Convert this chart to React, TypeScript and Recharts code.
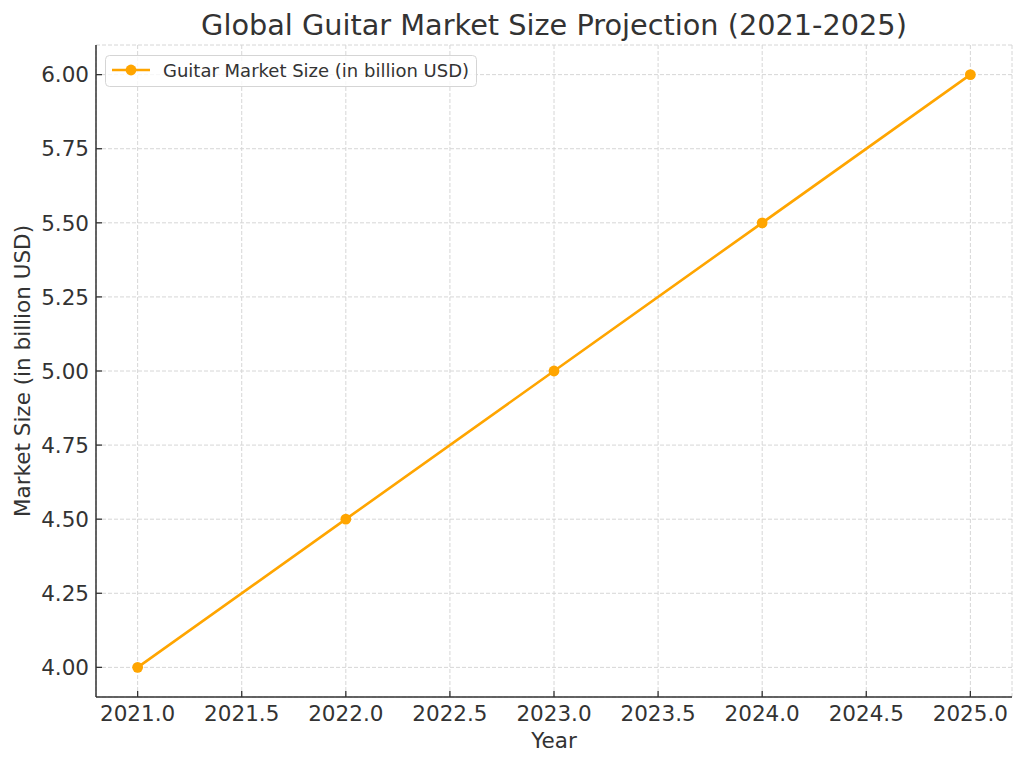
import { LineChart, Line, XAxis, YAxis, CartesianGrid, Legend } from 'recharts';

const years = [2021, 2022, 2023, 2024, 2025];
const marketSize = [4.0, 4.5, 5.0, 5.5, 6.0];
const xTicks = [2021, 2021.5, 2022, 2022.5, 2023, 2023.5, 2024, 2024.5, 2025];
const yTicks = [4.0, 4.25, 4.5, 4.75, 5.0, 5.25, 5.5, 5.75, 6.0];

const data = years.map((year, i) => ({ year, size: marketSize[i] }));

const FONT = '"DejaVu Sans", sans-serif';
const TEXT = '#333333';
const ORANGE = '#FFA500';

// ticks point into the plot area, like the matplotlib original
const XTick = ({ x, y, payload }: any) => (
  <g>
    <line x1={x} x2={x} y1={y - 8} y2={y - 14} stroke={TEXT} strokeWidth={1.3} />
    <text x={x} y={y} dy="0.74em" textAnchor="middle" fill={TEXT} fontSize={21.5} fontFamily={FONT}>
      {payload.value.toFixed(1)}
    </text>
  </g>
);

const YTick = ({ x, y, payload }: any) => (
  <g>
    <line x1={x + 7} x2={x + 13} y1={y} y2={y} stroke={TEXT} strokeWidth={1.3} />
    <text x={x} y={y} dy="0.36em" textAnchor="end" fill={TEXT} fontSize={21.5} fontFamily={FONT}>
      {payload.value.toFixed(2)}
    </text>
  </g>
);

const XTitle = ({ viewBox }: any) => (
  <text x={viewBox.x + viewBox.width / 2} y={viewBox.y + 51} textAnchor="middle" fill={TEXT} fontSize={21.5} fontFamily={FONT}>
    Year
  </text>
);

const YTitle = ({ viewBox }: any) => {
  const cx = viewBox.x + 30;
  const cy = viewBox.y + viewBox.height / 2;
  return (
    <text x={cx} y={cy} transform={`rotate(-90 ${cx} ${cy})`} textAnchor="middle" fill={TEXT} fontSize={21.5} fontFamily={FONT}>
      Market Size (in billion USD)
    </text>
  );
};

const LegendBox = ({ payload }: any) => {
  const entry = payload && payload[0];
  return (
    <svg width={372} height={32} style={{ display: 'block' }}>
      <rect x={0.5} y={0.5} width={371} height={31} rx={4} fill="#ffffff" fillOpacity={0.8} stroke="#d5d5d5" />
      <line x1={7} x2={45} y1={15} y2={15} stroke={ORANGE} strokeWidth={2.6} />
      <circle cx={26} cy={15} r={5.4} fill={ORANGE} />
      <text x={58} y={21.5} fill={TEXT} fontSize={18} fontFamily={FONT}>
        {entry ? entry.value : ''}
      </text>
    </svg>
  );
};

export default function App() {
  return (
    <div style={{ position: 'absolute', left: 0, top: 0, width: 1024, height: 766, background: '#fff' }}>
      <div
        style={{
          position: 'absolute',
          left: 96,
          top: 10.7,
          width: 916,
          textAlign: 'center',
          fontFamily: FONT,
          fontSize: 28.75,
          lineHeight: 1,
          color: TEXT,
          zIndex: 1,
        }}
      >
        Global Guitar Market Size Projection (2021-2025)
      </div>
      <LineChart width={1024} height={766} data={data} margin={{ top: 45, right: 12, bottom: 9, left: 0 }}>
        <CartesianGrid strokeDasharray="4 2" stroke="#d6d6d6" strokeWidth={1} />
        <XAxis
          dataKey="year"
          type="number"
          domain={[2020.8, 2025.2]}
          ticks={xTicks}
          allowDataOverflow
          height={60}
          tickSize={0}
          tickMargin={8}
          tickLine={false}
          tick={<XTick />}
          axisLine={{ stroke: TEXT, strokeWidth: 1.5 }}
          label={{ content: <XTitle /> }}
        />
        <YAxis
          type="number"
          domain={[3.9, 6.1]}
          ticks={yTicks}
          allowDataOverflow
          width={96}
          tickSize={0}
          tickMargin={7}
          tickLine={false}
          tick={<YTick />}
          axisLine={{ stroke: TEXT, strokeWidth: 1.5 }}
          label={{ content: <YTitle /> }}
        />
        <Legend
          layout="horizontal"
          verticalAlign="middle"
          align="center"
          width={372}
          wrapperStyle={{ top: 55, left: 105, width: 372, height: 32 }}
          content={<LegendBox />}
        />
        <Line
          type="linear"
          dataKey="size"
          name="Guitar Market Size (in billion USD)"
          stroke={ORANGE}
          strokeWidth={2.6}
          dot={{ r: 5.4, fill: ORANGE, stroke: 'none' }}
          activeDot={false}
          isAnimationActive={false}
        />
      </LineChart>
    </div>
  );
}
